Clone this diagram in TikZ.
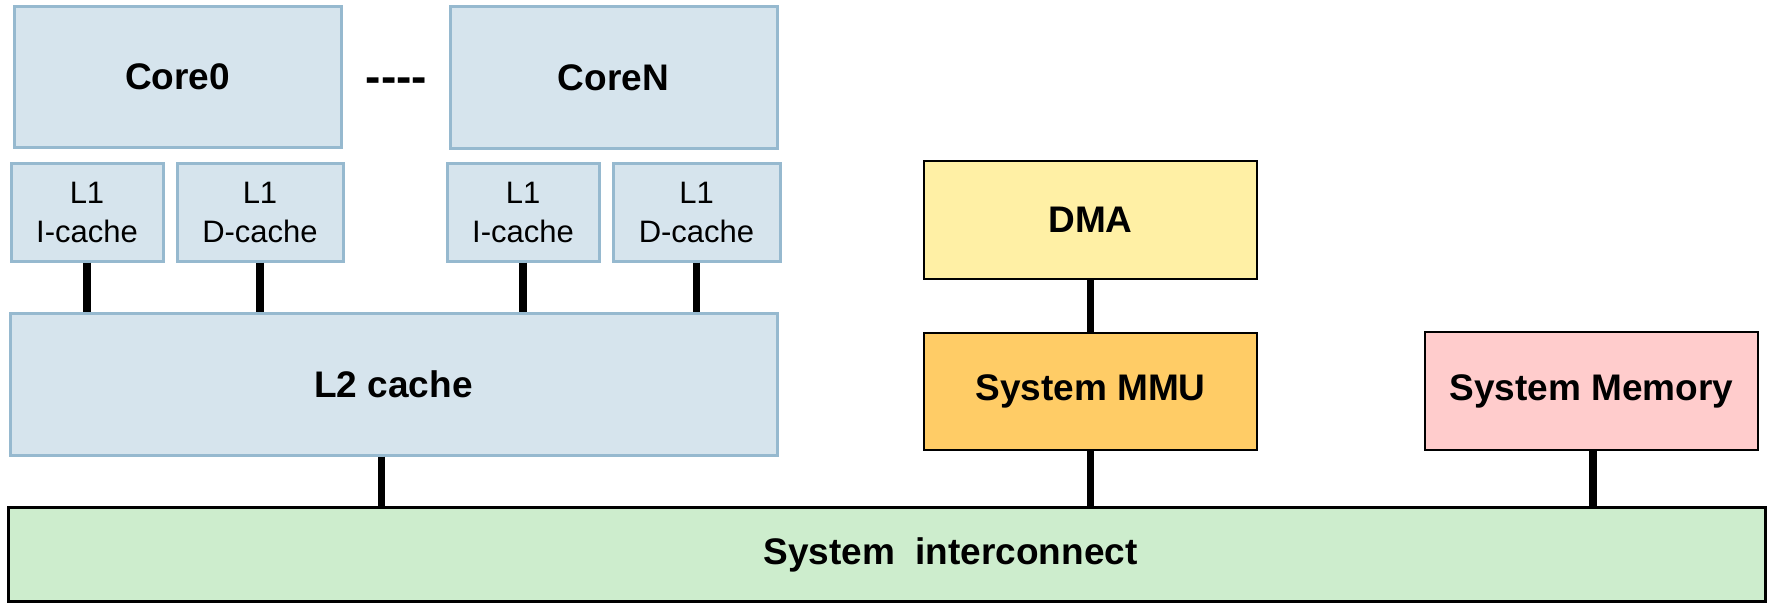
\documentclass[tikz,border=0pt]{standalone}
\usepackage{fontspec}
\setmainfont{Liberation Sans}
\definecolor{cacheFill}{HTML}{D6E4ED}
\definecolor{cacheLine}{HTML}{96B9CF}
\definecolor{dmaFill}{HTML}{FFF0A5}
\definecolor{mmuFill}{HTML}{FFCC66}
\definecolor{memFill}{HTML}{FFCCCC}
\definecolor{busFill}{HTML}{CDEDCD}
\begin{document}
\begin{tikzpicture}[x=1pt,y=-1pt,
  box/.style={rectangle, inner sep=0pt, align=center},
  bluebox/.style={box, fill=cacheFill, draw=cacheLine, line width=3pt},
  darkbox/.style={box, draw=black, line width=2.5pt},
  bigtext/.style={font=\fontsize{37}{44}\selectfont\bfseries},
  smalltext/.style={font=\fontsize{31}{39}\selectfont},
  link/.style={line width=7.5pt, line cap=butt, draw=black}]
\useasboundingbox (0,0) rectangle (1771,602);

% cores
\node[bluebox, bigtext, minimum width=327, minimum height=140] (core0) at (177.5,77) {Core0};
\node[bluebox, bigtext, minimum width=327, minimum height=141] (coreN) at (613.5,77.5) {CoreN};
\node[box, font=\fontsize{46}{50}\selectfont\bfseries] (dots) at (396.5,85) {{-}{-}{-}{-}};

% level-1 caches
\node[bluebox, smalltext, minimum width=152, minimum height=98] (l1i0) at (87,212) {L1\\I-cache};
\node[bluebox, smalltext, minimum width=166, minimum height=98] (l1d0) at (260,212) {L1\\D-cache};
\node[bluebox, smalltext, minimum width=152, minimum height=98] (l1iN) at (523,212) {L1\\I-cache};
\node[bluebox, smalltext, minimum width=167, minimum height=98] (l1dN) at (696.5,212) {L1\\D-cache};

% level-2 cache
\node[bluebox, bigtext, minimum width=767, minimum height=142] (l2) at (393.5,384) {L2 cache};

% DMA path
\node[darkbox, bigtext, fill=dmaFill, minimum width=333, minimum height=118] (dma) at (1090.5,220) {DMA};
\node[darkbox, bigtext, fill=mmuFill, minimum width=333, minimum height=117] (mmu) at (1090.5,391.5) {System MMU};

% memory
\node[darkbox, bigtext, fill=memFill, minimum width=333, minimum height=118] (mem) at (1591.5,391) {System Memory};

% interconnect
\node[box, fill=busFill, draw=black, line width=3pt, minimum width=1757, minimum height=94] (bus) at (886.5,554) {};
\node[box, bigtext] (buslabel) at (950.5,555) {System\ \ interconnect};

% links
\draw[link] (l1i0.south) -- (l1i0.south |- l2.north);
\draw[link] (l1d0.south) -- (l1d0.south |- l2.north);
\draw[link] (l1iN.south) -- (l1iN.south |- l2.north);
\draw[link] (l1dN.south) -- (l1dN.south |- l2.north);
\draw[link] ([xshift=-12pt]l2.south) -- ([xshift=-12pt]l2.south |- bus.north);
\draw[link] (dma.south) -- (mmu.north);
\draw[link] (mmu.south) -- (mmu.south |- bus.north);
\draw[link] ([xshift=1.5pt]mem.south) -- ([xshift=1.5pt]mem.south |- bus.north);
\end{tikzpicture}
\end{document}
